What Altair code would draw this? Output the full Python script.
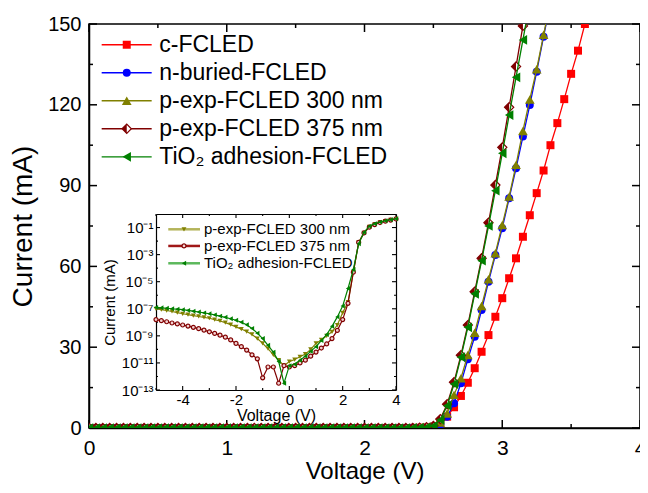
import altair as alt
import pandas as pd

FONT = "Liberation Sans"

# ---------------- main panel data (voltage sweep, current in mA) ----------------
V_MAIN = [0.00, 0.05, 0.10, 0.15, 0.20, 0.25, 0.30, 0.35, 0.40, 0.45,
          0.50, 0.55, 0.60, 0.65, 0.70, 0.75, 0.80, 0.85, 0.90, 0.95,
          1.00, 1.05, 1.10, 1.15, 1.20, 1.25, 1.30, 1.35, 1.40, 1.45,
          1.50, 1.55, 1.60, 1.65, 1.70, 1.75, 1.80, 1.85, 1.90, 1.95,
          2.00, 2.05, 2.10, 2.15, 2.20, 2.25, 2.30, 2.35, 2.40, 2.45,
          2.50, 2.55, 2.60, 2.65, 2.70, 2.75, 2.80, 2.85, 2.90, 2.95,
          3.00, 3.05, 3.10, 3.15, 3.20, 3.25, 3.30, 3.35, 3.40, 3.45,
          3.50, 3.55, 3.60, 3.65]

I_C_FCLED = [0.0, 0.0, 0.0, 0.0, 0.0, 0.0, 0.0, 0.0, 0.0, 0.0,
             0.0, 0.0, 0.0, 0.0, 0.0, 0.0, 0.0, 0.0, 0.0, 0.0,
             0.0, 0.0, 0.0, 0.0, 0.0, 0.0, 0.0, 0.0, 0.0, 0.0,
             0.0, 0.0, 0.0, 0.0, 0.0, 0.0, 0.0, 0.0, 0.0, 0.0,
             0.0, 0.0, 0.0, 0.0, 0.0, 0.0, 0.0, 0.05, 0.1, 0.2,
             0.5, 1.8, 4.2, 7.7, 11.9, 16.8, 22.2, 28.3, 34.5, 41.3,
             48.2, 55.6, 63.0, 71.0, 79.0, 87.2, 95.6, 105.0, 113.2, 122.1,
             131.5, 140.1, 150.0, 159.5]
I_N_BURIED = [0.0, 0.0, 0.0, 0.0, 0.0, 0.0, 0.0, 0.0, 0.0, 0.0,
              0.0, 0.0, 0.0, 0.0, 0.0, 0.0, 0.0, 0.0, 0.0, 0.0,
              0.0, 0.0, 0.0, 0.0, 0.0, 0.0, 0.0, 0.0, 0.0, 0.0,
              0.0, 0.0, 0.0, 0.0, 0.0, 0.0, 0.0, 0.0, 0.0, 0.0,
              0.0, 0.0, 0.0, 0.0, 0.0, 0.0, 0.0, 0.05, 0.1, 0.2,
              0.4, 1.3, 4.2, 9.2, 16.6, 25.5, 33.9, 43.8, 54.3, 64.2,
              74.2, 85.3, 96.4, 108.2, 119.9, 132.3, 145.3, 158.0]
I_P_EXP_300 = [0.0, 0.0, 0.0, 0.0, 0.0, 0.0, 0.0, 0.0, 0.0, 0.0,
               0.0, 0.0, 0.0, 0.0, 0.0, 0.0, 0.0, 0.0, 0.0, 0.0,
               0.0, 0.0, 0.0, 0.0, 0.0, 0.0, 0.0, 0.0, 0.0, 0.0,
               0.0, 0.0, 0.0, 0.0, 0.0, 0.0, 0.0, 0.0, 0.0, 0.0,
               0.0, 0.0, 0.0, 0.0, 0.0, 0.0, 0.0, 0.05, 0.1, 0.2,
               0.5, 2.0, 5.4, 12.3, 18.5, 27.1, 35.4, 45.3, 55.2, 64.9,
               75.4, 85.9, 97.7, 110.3, 122.0, 133.2, 146.0, 158.5]
I_P_EXP_375 = [0.0, 0.0, 0.0, 0.0, 0.0, 0.0, 0.0, 0.0, 0.0, 0.0,
               0.0, 0.0, 0.0, 0.0, 0.0, 0.0, 0.0, 0.0, 0.0, 0.0,
               0.0, 0.0, 0.0, 0.0, 0.0, 0.0, 0.0, 0.0, 0.0, 0.0,
               0.0, 0.0, 0.0, 0.0, 0.0, 0.0, 0.0, 0.0, 0.0, 0.0,
               0.0, 0.0, 0.0, 0.0, 0.0, 0.0, 0.0, 0.05, 0.15, 0.3,
               0.8, 3.3, 8.8, 17.0, 27.0, 38.2, 50.6, 63.0, 76.2, 90.2,
               104.2, 119.1, 134.2, 149.3, 164.0]
I_TIO2 = [0.0, 0.0, 0.0, 0.0, 0.0, 0.0, 0.0, 0.0, 0.0, 0.0,
          0.0, 0.0, 0.0, 0.0, 0.0, 0.0, 0.0, 0.0, 0.0, 0.0,
          0.0, 0.0, 0.0, 0.0, 0.0, 0.0, 0.0, 0.0, 0.0, 0.0,
          0.0, 0.0, 0.0, 0.0, 0.0, 0.0, 0.0, 0.0, 0.0, 0.0,
          0.0, 0.0, 0.0, 0.0, 0.0, 0.0, 0.0, 0.05, 0.15, 0.3,
          0.8, 3.0, 8.3, 16.3, 26.3, 37.4, 49.8, 62.1, 75.0, 88.1,
          102.0, 116.2, 130.2, 144.1, 158.0]

SERIES = ["c-FCLED", "n-buried-FCLED", "p-exp-FCLED 300 nm",
          "p-exp-FCLED 375 nm", "TiO\u2082 adhesion-FCLED"]
CURRENTS = [I_C_FCLED, I_N_BURIED, I_P_EXP_300, I_P_EXP_375, I_TIO2]
COLORS = ["#ff0000", "#0000ff", "#808000", "#800000", "#008000"]
SHAPES = ["square", "circle", "triangle-up", "diamond", "triangle-left"]
SIZES = [64, 64, 95, 85, 95]

# legend rows (data units of the main panel)
LEG_ROWS = [142.3, 131.9, 121.5, 111.1, 100.7]
LEG_X = [0.092, 0.455, 0.274, 0.51]   # line start, line end, marker, text

# ---------------- inset data (log10 of current in mA) ----------------
V_INSET = [-5.0, -4.8, -4.6, -4.4, -4.2, -4.0, -3.8, -3.6, -3.4, -3.2,
           -3.0, -2.8, -2.6, -2.4, -2.2, -2.0, -1.8, -1.6, -1.4, -1.2,
           -1.0, -0.8, -0.6, -0.4, -0.2, 0.0, 0.2, 0.4, 0.6, 0.8,
           1.0, 1.2, 1.4, 1.6, 1.8, 2.0, 2.2, 2.4, 2.6, 2.8,
           3.0, 3.2, 3.4, 3.6, 3.8, 4.0]
LOGI_P300 = [-7.0, -7.07, -7.13, -7.2, -7.28, -7.37, -7.43, -7.5, -7.57, -7.63,
             -7.7, -7.8, -7.9, -8.02, -8.17, -8.34, -8.5, -8.68, -8.9, -9.2,
             -9.56, -9.95, -10.4, -10.8, -11.2, -10.9, -10.75, -10.55, -10.35, -10.0,
             -9.56, -9.3, -9.0, -8.7, -8.2, -7.3, -6.5, -4.3, -2.1, -1.4,
             -0.95, -0.76, -0.62, -0.52, -0.44, -0.36]
LOGI_P375 = [-7.8, -7.88, -7.96, -8.05, -8.12, -8.2, -8.28, -8.37, -8.47, -8.58,
             -8.7, -8.82, -8.95, -9.1, -9.3, -9.56, -9.8, -10.05, -10.4, -10.7,
             -12.1, -11.3, -11.3, -12.5, -11.2, -11.3, -11.2, -11.0, -10.8, -10.5,
             -10.2, -9.9, -9.6, -9.2, -8.6, -7.8, -6.6, -4.3, -2.1, -1.4,
             -0.97, -0.78, -0.63, -0.53, -0.45, -0.37]
LOGI_TIO2 = [-6.9, -6.93, -6.96, -7.0, -7.03, -7.07, -7.12, -7.18, -7.24, -7.3,
             -7.37, -7.45, -7.54, -7.63, -7.74, -7.85, -8.0, -8.18, -8.45, -8.8,
             -9.2, -9.7, -10.2, -10.9, -12.5, -11.2, -11.1, -10.8, -10.5, -10.15,
             -9.8, -9.35, -8.9, -8.3, -7.6, -6.8, -5.5, -4.1, -2.2, -1.35,
             -0.9, -0.72, -0.6, -0.5, -0.42, -0.35]
INSET_SERIES = ["p-exp-FCLED 300 nm", "p-exp-FCLED 375 nm", "TiO\u2082 adhesion-FCLED"]
INSET_LOGI = [LOGI_P300, LOGI_P375, LOGI_TIO2]
INSET_COLORS = ["#808000", "#800000", "#008000"]
INSET_LEG_LINE_COLORS = ["#b4b45a", "#a01818", "#5cb85c"]
INSET_SHAPES = ["triangle-down", "circle", "triangle-left"]
INSET_LEG_ROWS = [-1.13, -2.36, -3.64]
INSET_LEG_X = [-4.54, -3.35, -3.95, -3.2]

INSET_Y_EXP = [-13, -11, -9, -7, -5, -3, -1]
INSET_Y_LABELS = ["10\u207b\u00b9\u00b3", "10\u207b\u00b9\u00b9", "10\u207b\u2079",
                  "10\u207b\u2077", "10\u207b\u2075", "10\u207b\u00b3", "10\u207b\u00b9"]

# tick positions
X_MAJOR = [0, 1, 2, 3, 4]
X_MINOR = [0.5, 1.5, 2.5, 3.5]
Y_MAJOR = [0, 30, 60, 90, 120, 150]
Y_MINOR = [15, 45, 75, 105, 135]
IX_MAJOR = [-4, -2, 0, 2, 4]
IX_MINOR = [-5, -3, -1, 1, 3]
IY_MAJOR = [-13, -11, -9, -7, -5, -3, -1]
IY_MINOR = [-12, -10, -8, -6, -4, -2]

# ---------------- geometry ----------------
W, H = 551, 404
IX0, IX1 = 67, 307      # inset plot area, in main-plot pixels
IY_TOP, IY_BOT = 190, 366
MAJ, MIN_ = 8, 4        # main tick lengths
IMAJ, IMIN = 4, 2       # inset tick lengths

XS_MAIN = alt.Scale(domain=[0, 4], nice=False, zero=False)
YS_MAIN = alt.Scale(domain=[0, 150], nice=False, zero=False)
XS_IN = alt.Scale(domain=[-5, 4], nice=False, zero=False, range=[IX0, IX1])
YS_IN = alt.Scale(domain=[-13, 0], nice=False, zero=False, range=[IY_BOT, IY_TOP])

AX_MAIN_X = alt.Axis(orient="bottom", values=X_MAJOR, format="d", ticks=False, tickSize=0,
                     domain=True, domainColor="black", domainWidth=1.5, grid=False,
                     labelFont=FONT, labelFontSize=21, labelColor="black", labelPadding=9,
                     labelFlush=False, labelOverlap=False,
                     title="Voltage (V)", titleFont=FONT, titleFontSize=24,
                     titleFontWeight="normal", titleColor="black", titlePadding=1)
AX_MAIN_Y = alt.Axis(orient="left", values=Y_MAJOR, format="d", ticks=False, tickSize=0,
                     domain=True, domainColor="black", domainWidth=1.5, grid=False,
                     labelFont=FONT, labelFontSize=20, labelColor="black", labelPadding=8,
                     labelFlush=False, labelOverlap=False,
                     title="Current (mA)", titleFont=FONT, titleFontSize=28,
                     titleFontWeight="normal", titleColor="black", titlePadding=10)

inset_y_expr = " : ".join(
    f"datum.value == {e} ? '{lab}'" for e, lab in zip(INSET_Y_EXP, INSET_Y_LABELS)) + " : ''"

AX_IN_X = alt.Axis(orient="bottom", offset=IY_BOT - H, values=IX_MAJOR, labelExpr="'' + datum.value",
                   ticks=False, tickSize=0, domain=True, domainColor="black", domainWidth=1.2,
                   grid=False, labelFont=FONT, labelFontSize=15, labelColor="black",
                   labelPadding=2, labelFlush=False, labelOverlap=False,
                   title="Voltage (V)", titleFont=FONT, titleFontSize=16,
                   titleFontWeight="normal", titleColor="black", titlePadding=0)
AX_IN_Y = alt.Axis(orient="left", offset=-IX0, values=INSET_Y_EXP, labelExpr=inset_y_expr,
                   ticks=False, tickSize=0, domain=True, domainColor="black", domainWidth=1.2,
                   grid=False, labelFont=FONT, labelFontSize=15, labelColor="black",
                   labelPadding=3, labelFlush=False, labelOverlap=False,
                   title="Current (mA)", titleFont=FONT, titleFontSize=15,
                   titleFontWeight="normal", titleColor="black", titlePadding=4)


def frame_axis(orient, offset):
    return alt.Axis(orient=orient, offset=offset, labels=False, ticks=False, domain=True,
                    domainColor="black", domainWidth=1.2, grid=False, title=None)


def enc(field, scale, axis, ch):
    return alt.X(field, type="quantitative", scale=scale, axis=axis) if ch == "x" else \
        alt.Y(field, type="quantitative", scale=scale, axis=axis)


def tick_rules(values, scale, axis, ch, p0, p1, width):
    """Inward tick marks at the given data values, drawn through the scale."""
    df = pd.DataFrame({"t": values})
    if ch == "x":
        e = dict(x=enc("t", scale, axis, "x"), y=alt.value(p0), y2=alt.value(p1))
    else:
        e = dict(y=enc("t", scale, axis, "y"), x=alt.value(p0), x2=alt.value(p1))
    return alt.Chart(df).mark_rule(color="black", strokeWidth=width).encode(**e)


# ---------------- main panel layers ----------------
main_layers = []
for vals, ln in ((X_MAJOR, MAJ), (X_MINOR, MIN_)):
    main_layers.append(tick_rules(vals, XS_MAIN, AX_MAIN_X, "x", 0, ln, 1.5))
    main_layers.append(tick_rules(vals, XS_MAIN, AX_MAIN_X, "x", H, H - ln, 1.5))
for vals, ln in ((Y_MAJOR, MAJ), (Y_MINOR, MIN_)):
    main_layers.append(tick_rules(vals, YS_MAIN, AX_MAIN_Y, "y", 0, ln, 1.5))
    main_layers.append(tick_rules(vals, YS_MAIN, AX_MAIN_Y, "y", W, W - ln, 1.5))

for name, cur, col, shp, sz in zip(SERIES, CURRENTS, COLORS, SHAPES, SIZES):
    df = pd.DataFrame({"V": V_MAIN[:len(cur)], "I": cur, "series": name})
    x = enc("V", XS_MAIN, AX_MAIN_X, "x")
    y = enc("I", YS_MAIN, AX_MAIN_Y, "y")
    main_layers.append(alt.Chart(df).mark_line(color=col, strokeWidth=1.3, clip=True)
                       .encode(x=x, y=y))
    if shp == "diamond":
        main_layers.append(alt.Chart(df).mark_point(shape="diamond", filled=True, fill="white",
                                                    stroke=col, strokeWidth=1.2, size=sz,
                                                    opacity=1, clip=True).encode(x=x, y=y))
        main_layers.append(alt.Chart(df).mark_point(shape="M-1,0L0,-1L0,1Z", filled=True,
                                                    color=col, size=sz, opacity=1, clip=True)
                           .encode(x=x, y=y))
    else:
        main_layers.append(alt.Chart(df).mark_point(shape=shp, filled=True, color=col, size=sz,
                                                    opacity=1, clip=True).encode(x=x, y=y))

for row, name, col, shp, sz in zip(LEG_ROWS, SERIES, COLORS, SHAPES, SIZES):
    x = enc("V", XS_MAIN, AX_MAIN_X, "x")
    y = enc("I", YS_MAIN, AX_MAIN_Y, "y")
    line_df = pd.DataFrame({"V": [LEG_X[0]], "V2": [LEG_X[1]], "I": [row]})
    pt_df = pd.DataFrame({"V": [LEG_X[2]], "I": [row]})
    txt_df = pd.DataFrame({"V": [LEG_X[3]], "I": [row], "label": [name]})
    main_layers.append(alt.Chart(line_df).mark_rule(color=col, strokeWidth=1.3)
                       .encode(x=x, x2="V2:Q", y=y))
    if shp == "diamond":
        main_layers.append(alt.Chart(pt_df).mark_point(shape="diamond", filled=True, fill="white",
                                                       stroke=col, strokeWidth=1.2, size=sz,
                                                       opacity=1).encode(x=x, y=y))
        main_layers.append(alt.Chart(pt_df).mark_point(shape="M-1,0L0,-1L0,1Z", filled=True,
                                                       color=col, size=sz, opacity=1)
                           .encode(x=x, y=y))
    else:
        main_layers.append(alt.Chart(pt_df).mark_point(shape=shp, filled=True, color=col,
                                                       size=sz, opacity=1).encode(x=x, y=y))
    main_layers.append(alt.Chart(txt_df).mark_text(align="left", baseline="middle", font=FONT,
                                                   fontSize=23, color="black")
                       .encode(x=x, y=y, text="label:N"))

main = alt.layer(*main_layers)

# ---------------- inset layers ----------------
inset_layers = []
for vals, ln in ((IX_MAJOR, IMAJ), (IX_MINOR, IMIN)):
    inset_layers.append(tick_rules(vals, XS_IN, AX_IN_X, "x", IY_TOP, IY_TOP + ln, 1.1))
    inset_layers.append(tick_rules(vals, XS_IN, AX_IN_X, "x", IY_BOT, IY_BOT - ln, 1.1))
for vals, ln in ((IY_MAJOR, IMAJ), (IY_MINOR, IMIN)):
    inset_layers.append(tick_rules(vals, YS_IN, AX_IN_Y, "y", IX0, IX0 + ln, 1.1))
    inset_layers.append(tick_rules(vals, YS_IN, AX_IN_Y, "y", IX1, IX1 - ln, 1.1))

for name, logi, col, shp in zip(INSET_SERIES, INSET_LOGI, INSET_COLORS, INSET_SHAPES):
    df = pd.DataFrame({"V": V_INSET, "L": logi})
    x = enc("V", XS_IN, AX_IN_X, "x")
    y = enc("L", YS_IN, AX_IN_Y, "y")
    inset_layers.append(alt.Chart(df).mark_line(color=col, strokeWidth=1.2).encode(x=x, y=y))
    if shp == "circle":
        inset_layers.append(alt.Chart(df).mark_point(shape="circle", filled=True, fill="#f3d0d0",
                                                     stroke=col, strokeWidth=1.2, size=16,
                                                     opacity=1).encode(x=x, y=y))
    else:
        inset_layers.append(alt.Chart(df).mark_point(shape=shp, filled=True, color=col, size=24,
                                                     opacity=1).encode(x=x, y=y))

for row, name, col, lcol, shp in zip(INSET_LEG_ROWS, INSET_SERIES, INSET_COLORS,
                                     INSET_LEG_LINE_COLORS, INSET_SHAPES):
    x = enc("V", XS_IN, AX_IN_X, "x")
    y = enc("L", YS_IN, AX_IN_Y, "y")
    line_df = pd.DataFrame({"V": [INSET_LEG_X[0]], "V2": [INSET_LEG_X[1]], "L": [row]})
    pt_df = pd.DataFrame({"V": [INSET_LEG_X[2]], "L": [row]})
    txt_df = pd.DataFrame({"V": [INSET_LEG_X[3]], "L": [row], "label": [name]})
    inset_layers.append(alt.Chart(line_df).mark_rule(color=lcol, strokeWidth=2.5)
                        .encode(x=x, x2="V2:Q", y=y))
    if shp == "circle":
        inset_layers.append(alt.Chart(pt_df).mark_point(shape="circle", filled=True,
                                                        fill="#f3d0d0", stroke=col,
                                                        strokeWidth=1.2, size=16, opacity=1)
                            .encode(x=x, y=y))
    else:
        inset_layers.append(alt.Chart(pt_df).mark_point(shape=shp, filled=True, color=col,
                                                        size=24, opacity=1).encode(x=x, y=y))
    inset_layers.append(alt.Chart(txt_df).mark_text(align="left", baseline="middle", font=FONT,
                                                    fontSize=15, color="black")
                        .encode(x=x, y=y, text="label:N"))

inset = alt.layer(*inset_layers)

# top and right borders of the inset
dummy_in = pd.DataFrame({"V": [-5.0, 4.0], "L": [-13.0, 0.0]})
inset_frame = alt.Chart(dummy_in).mark_point(opacity=0).encode(
    x=enc("V", XS_IN, frame_axis("bottom", IY_TOP - H), "x"),
    y=enc("L", YS_IN, frame_axis("left", -IX1), "y"))

chart = (
    alt.layer(main, inset_frame, inset)
    .resolve_scale(x="independent", y="independent")
    .properties(width=W, height=H, autosize=alt.AutoSizeParams(type="none"),
                padding={"left": 81, "top": 16, "right": 0, "bottom": 57},
                background="white")
    .configure_view(stroke="black", strokeWidth=1.5)
)

chart.save("out.html", embed_options={"renderer": "svg", "actions": False})
